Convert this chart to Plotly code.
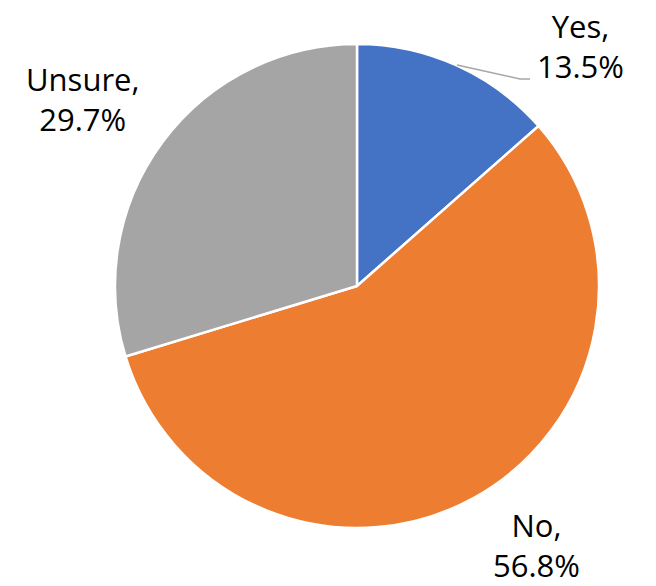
import plotly.graph_objects as go

labels = ["Yes", "No", "Unsure"]
values = [13.5, 56.8, 29.7]
colors = ["#4472C4", "#ED7D31", "#A5A5A5"]

W, H = 656, 586
def px(x):
    return x / W
def py(y):
    return 1 - y / H

fig = go.Figure(go.Pie(
    labels=labels,
    values=values,
    sort=False,
    direction="clockwise",
    rotation=0,
    marker=dict(colors=colors, line=dict(color="white", width=2.5)),
    textinfo="none",
    hoverinfo="label+percent",
    showlegend=False,
    domain=dict(x=[px(115), px(599)], y=[py(528), py(44)]),
))

label_pos = {"Yes": (580, 46), "No": (536, 545), "Unsure": (83, 99)}
annotations = []
for lab, val in zip(labels, values):
    x, y = label_pos[lab]
    annotations.append(dict(
        x=px(x), y=py(y), xref="paper", yref="paper",
        text=f"{lab},<br>{val:.1f}%", showarrow=False,
        xanchor="center", yanchor="middle", align="center",
        borderpad=0,
        font=dict(family="Open Sans", size=31, color="black"),
    ))

fig.update_layout(
    width=W, height=H,
    margin=dict(l=0, r=0, t=0, b=0),
    paper_bgcolor="white", plot_bgcolor="white",
    annotations=annotations,
    shapes=[dict(
        type="path", xref="paper", yref="paper",
        path=f"M {px(457)} {py(65)} L {px(520)} {py(79)} L {px(530)} {py(79)}",
        line=dict(color="#A6A6A6", width=1.5),
    )],
)

fig.write_html(
    "out.html",
    config={"displayModeBar": False},
    post_script="document.body.style.margin='0';document.body.style.overflow='hidden';",
)
